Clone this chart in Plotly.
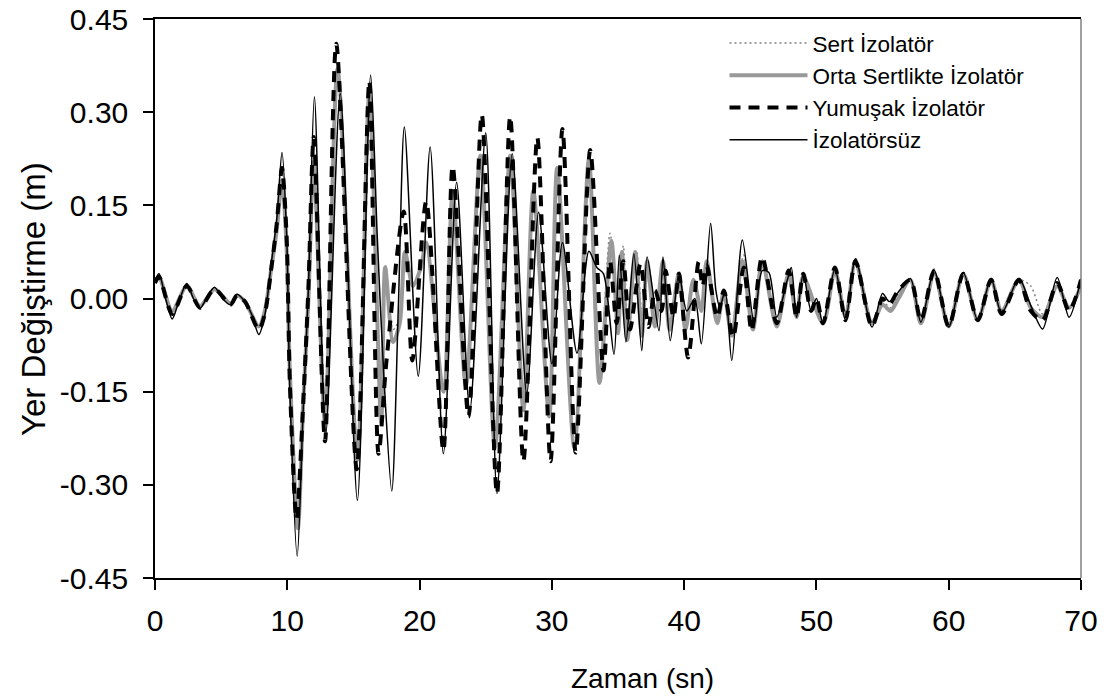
import plotly.graph_objects as go

# ---- data (time in s, displacement in m) ----
t_none = [0.0, 0.3, 0.8, 1.3, 1.8, 2.4, 2.9, 3.4, 4.0, 4.5, 5.1, 5.7, 6.2, 6.8, 7.3, 7.85, 8.3, 8.8, 9.2, 9.6,
          9.95, 10.2, 10.75, 11.2, 11.6, 12.05, 12.9, 14.0, 15.3, 16.3, 16.8, 17.3, 17.9, 18.4, 18.85, 19.9,
          20.8, 21.8, 22.8, 23.8, 25.0, 25.85, 27.0, 28.1, 29.0, 30.0, 30.8, 31.9, 32.8, 33.4, 33.9, 34.7,
          35.1, 35.6, 36.2, 36.8, 37.2, 38.1, 38.4, 38.95, 39.6, 40.2, 40.8, 41.3, 42.0, 42.4, 42.7, 43.1,
          43.6, 44.4, 45.3, 45.9, 46.4, 47.0, 47.8, 48.1, 48.5, 49.0, 49.6, 50.0, 50.5, 51.4, 52.2, 52.95,
          54.2, 55.0, 55.5, 56.1, 57.1, 57.9, 58.9, 60.0, 61.1, 62.2, 63.2, 64.0, 65.3, 66.2, 67.1, 68.2,
          69.1, 70.0]
v_none = [0.03, 0.04, 0.0, -0.033, -0.005, 0.024, 0.0, -0.016, 0.005, 0.018, 0.0, -0.01, 0.007, -0.005, -0.025,
          -0.058, -0.027, 0.058, 0.127, 0.235, 0.104, -0.153, -0.415, -0.18, 0.018, 0.325, -0.22, 0.33, -0.325,
          0.36, 0.1, -0.125, -0.31, -0.01, 0.276, -0.125, 0.244, -0.25, 0.187, -0.18, 0.267, -0.314, 0.233,
          -0.153, 0.139, -0.105, 0.09, -0.088, 0.076, 0.05, 0.04, -0.09, 0.07, -0.07, 0.072, -0.084, 0.067,
          -0.052, 0.067, -0.068, 0.04, -0.02, 0.0, -0.073, 0.121, 0.013, -0.014, 0.013, -0.1, 0.094, -0.04,
          0.045, 0.042, -0.03, 0.03, 0.05, -0.03, 0.04, -0.02, 0.0, -0.04, 0.048, -0.035, 0.064, -0.046,
          0.008, -0.005, 0.008, 0.032, -0.038, 0.045, -0.046, 0.042, -0.035, 0.032, -0.024, 0.032, -0.011,
          -0.049, 0.034, -0.03, 0.032]

t_soft = [0.0, 0.3, 1.3, 2.4, 3.4, 4.5, 5.7, 6.2, 6.8, 7.85, 8.3, 8.8, 9.2, 9.6, 9.95, 10.2, 10.7, 11.2, 11.6,
          12.0, 12.85, 13.7, 15.25, 16.2, 16.9, 17.5, 18.8, 19.45, 20.5, 21.8, 22.5, 23.7, 24.7, 25.85, 26.85,
          27.85, 28.9, 29.9, 30.8, 31.8, 32.9, 33.9, 34.4, 34.9, 35.4, 35.9, 36.7, 37.3, 37.8, 38.3, 38.6,
          39.2, 39.6, 40.3, 41.1, 41.4, 41.7, 42.5, 43.0, 43.7, 44.5, 45.1, 45.9, 47.0, 47.9, 48.5, 49.0,
          49.6, 50.0, 50.5, 51.4, 52.2, 52.95, 54.2, 55.0, 55.5, 56.1, 57.1, 57.9, 58.9, 60.0, 61.1, 62.2,
          63.2, 64.0, 65.3, 66.2, 67.1, 68.2, 69.1, 70.0]
v_soft = [0.025, 0.035, -0.025, 0.02, -0.015, 0.015, -0.01, 0.005, -0.005, -0.05, -0.025, 0.05, 0.12, 0.21, 0.1,
          -0.14, -0.355, -0.17, 0.02, 0.26, -0.23, 0.41, -0.275, 0.35, -0.25, -0.1, 0.14, -0.1, 0.156, -0.245,
          0.213, -0.19, 0.296, -0.314, 0.293, -0.262, 0.259, -0.262, 0.273, -0.248, 0.239, -0.116, 0.06,
          -0.04, 0.06, -0.05, 0.056, -0.046, 0.013, -0.02, 0.045, -0.03, 0.04, -0.095, 0.059, 0.02, 0.053,
          -0.03, 0.013, -0.062, 0.05, -0.052, 0.067, -0.04, 0.045, -0.03, 0.04, -0.02, 0.0, -0.04, 0.05,
          -0.035, 0.06, -0.045, 0.0, -0.01, 0.01, 0.03, -0.035, 0.045, -0.045, 0.04, -0.035, 0.03, -0.025,
          0.03, -0.02, -0.035, 0.025, -0.02, 0.03]

t_mid = [0.0, 0.3, 1.3, 2.4, 3.4, 4.5, 5.7, 6.2, 6.8, 7.85, 8.3, 8.8, 9.2, 9.6, 9.95, 10.2, 10.8, 11.2, 11.6,
         12.0, 12.85, 13.8, 15.3, 16.2, 17.1, 17.4, 18.0, 18.5, 18.9, 19.5, 20.1, 20.5, 21.8, 22.5, 23.5,
         24.6, 25.7, 26.85, 27.85, 28.6, 29.8, 30.4, 31.7, 32.8, 33.6, 34.5, 35.0, 35.3, 35.7, 36.3, 36.8,
         37.2, 37.8, 38.4, 38.9, 39.6, 40.1, 40.7, 41.3, 41.7, 42.5, 43.0, 43.6, 44.4, 45.2, 45.9, 47.0,
         47.9, 48.5, 49.0, 50.5, 51.4, 52.2, 52.95, 54.2, 55.0, 55.6, 56.2, 57.1, 57.9, 58.9, 60.0, 61.1,
         62.2, 63.2, 64.0, 65.3, 66.2, 67.1, 68.2, 69.1, 70.0]
v_mid = [0.025, 0.035, -0.02, 0.02, -0.012, 0.015, -0.008, 0.005, -0.005, -0.045, -0.02, 0.05, 0.11, 0.19, 0.08,
         -0.12, -0.37, -0.17, 0.0, 0.22, -0.2, 0.37, -0.26, 0.33, -0.2, 0.05, -0.07, -0.04, 0.075, 0.02, 0.05,
         0.09, -0.15, 0.17, -0.14, 0.23, -0.24, 0.23, -0.18, 0.173, -0.19, 0.21, -0.24, 0.224, -0.136, 0.093,
         -0.056, 0.075, -0.067, 0.075, -0.06, 0.06, -0.045, 0.06, -0.05, 0.04, -0.05, 0.03, -0.02, 0.06,
         -0.04, 0.01, -0.06, 0.06, -0.05, 0.06, -0.045, 0.04, -0.03, 0.035, -0.04, 0.045, -0.03, 0.06, -0.04,
         -0.01, -0.02, 0.0, 0.03, -0.04, 0.04, -0.045, 0.04, -0.035, 0.03, -0.02, 0.03, -0.015, -0.03, 0.02,
         -0.015, 0.02]

t_hard = [0.0, 0.3, 1.3, 2.4, 3.4, 4.5, 5.7, 6.2, 6.8, 7.85, 8.3, 8.8, 9.2, 9.6, 9.95, 10.2, 10.8, 11.2, 11.6,
          12.0, 12.85, 13.8, 15.3, 16.2, 17.1, 17.4, 18.0, 18.5, 18.9, 19.5, 20.1, 20.5, 21.8, 22.5, 23.5,
          24.6, 25.7, 26.85, 27.85, 28.6, 29.8, 30.4, 31.7, 32.8, 33.6, 34.4, 35.0, 35.4, 35.8, 36.4, 36.9,
          37.3, 37.8, 38.4, 38.9, 39.6, 40.1, 40.7, 41.3, 41.7, 42.5, 43.0, 43.6, 44.5, 45.2, 45.9, 47.0,
          47.9, 48.5, 49.0, 50.5, 51.4, 52.2, 52.95, 54.2, 55.0, 55.6, 56.2, 57.1, 57.9, 58.9, 60.0, 61.1,
          62.2, 63.2, 64.0, 65.3, 66.2, 67.1, 68.2, 69.1, 70.0]
v_hard = [0.025, 0.035, -0.02, 0.02, -0.012, 0.015, -0.008, 0.005, -0.005, -0.045, -0.02, 0.05, 0.11, 0.19, 0.08,
          -0.12, -0.36, -0.16, 0.0, 0.21, -0.19, 0.35, -0.25, 0.32, -0.15, 0.055, -0.05, -0.03, 0.07, 0.02,
          0.05, 0.09, -0.14, 0.16, -0.13, 0.22, -0.23, 0.22, -0.17, 0.17, -0.18, 0.2, -0.23, 0.21, -0.12, 0.105,
          -0.05, 0.085, -0.06, 0.077, -0.05, 0.06, -0.04, 0.06, -0.045, 0.045, -0.05, 0.03, -0.02, 0.06,
          -0.035, 0.01, -0.055, 0.07, -0.045, 0.06, -0.04, 0.045, -0.025, 0.04, -0.035, 0.045, -0.03, 0.065,
          -0.035, -0.005, -0.015, 0.005, 0.03, -0.035, 0.04, -0.04, 0.04, -0.03, 0.03, -0.02, 0.03, 0.02,
          -0.025, 0.02, -0.015, 0.025]

x_ticks = [0, 10, 20, 30, 40, 50, 60, 70]
y_ticks = [-0.45, -0.30, -0.15, 0.0, 0.15, 0.30, 0.45]
y_tick_text = ["-0.45", "-0.30", "-0.15", "0.00", "0.15", "0.30", "0.45"]
x_title = "Zaman (sn)"
y_title = "Yer Değiştirme (m)"

FONT = "Liberation Sans, Arial, sans-serif"

fig = go.Figure()
fig.add_trace(go.Scatter(x=t_hard, y=v_hard, mode="lines", name="Sert İzolatör",
                         line=dict(color="#808080", width=1.5, dash="2px,3px", shape="spline", smoothing=0.8)))
fig.add_trace(go.Scatter(x=t_mid, y=v_mid, mode="lines", name="Orta Sertlikte İzolatör",
                         line=dict(color="#999999", width=4, shape="spline", smoothing=0.8)))
fig.add_trace(go.Scatter(x=t_soft, y=v_soft, mode="lines", name="Yumuşak İzolatör",
                         line=dict(color="black", width=4, dash="11px,8px", shape="spline", smoothing=0.8)))
fig.add_trace(go.Scatter(x=t_none, y=v_none, mode="lines", name="İzolatörsüz",
                         line=dict(color="black", width=1.5, shape="spline", smoothing=0.8)))

fig.update_layout(
    width=1111, height=697,
    margin=dict(l=155, r=30, t=19, b=119, autoexpand=False),
    paper_bgcolor="white", plot_bgcolor="white",
    font=dict(family=FONT, color="black"),
    legend=dict(x=0.615, y=0.995, xanchor="left", yanchor="top", font=dict(size=22.5, family=FONT),
                itemwidth=78, bgcolor="rgba(0,0,0,0)", tracegroupgap=0),
    shapes=[dict(type="line", xref="paper", yref="paper", x0=1, x1=1, y0=0, y1=1,
                 line=dict(color="#808080", width=1.5))],
    annotations=[
        dict(text=x_title, xref="paper", yref="paper", x=(642 - 155) / 926, y=-(678 - 578) / 559,
             xanchor="center", yanchor="middle", showarrow=False, font=dict(size=28, family=FONT)),
        dict(text=y_title, xref="paper", yref="paper", x=-(155 - 33) / 926, y=(578 - 299) / 559,
             xanchor="center", yanchor="middle", textangle=-90, showarrow=False,
             font=dict(size=33, family=FONT)),
    ],
)
fig.update_xaxes(range=[0, 70], tickvals=x_ticks, ticks="outside", ticklen=10, tickwidth=1.5, tickcolor="black",
                 showline=True, linecolor="black", linewidth=1.5, mirror=True, showgrid=False, zeroline=False,
                 tickfont=dict(size=30, family=FONT), ticklabelstandoff=5, automargin=False)
fig.update_yaxes(range=[-0.45, 0.45], tickvals=y_ticks, ticktext=y_tick_text, ticks="outside", ticklen=10,
                 tickwidth=1.5, tickcolor="black", showline=True, linecolor="black", linewidth=1.5,
                 showgrid=False, zeroline=False, tickfont=dict(size=30, family=FONT), ticklabelstandoff=9,
                 automargin=False)

fig.write_html("out.html")
